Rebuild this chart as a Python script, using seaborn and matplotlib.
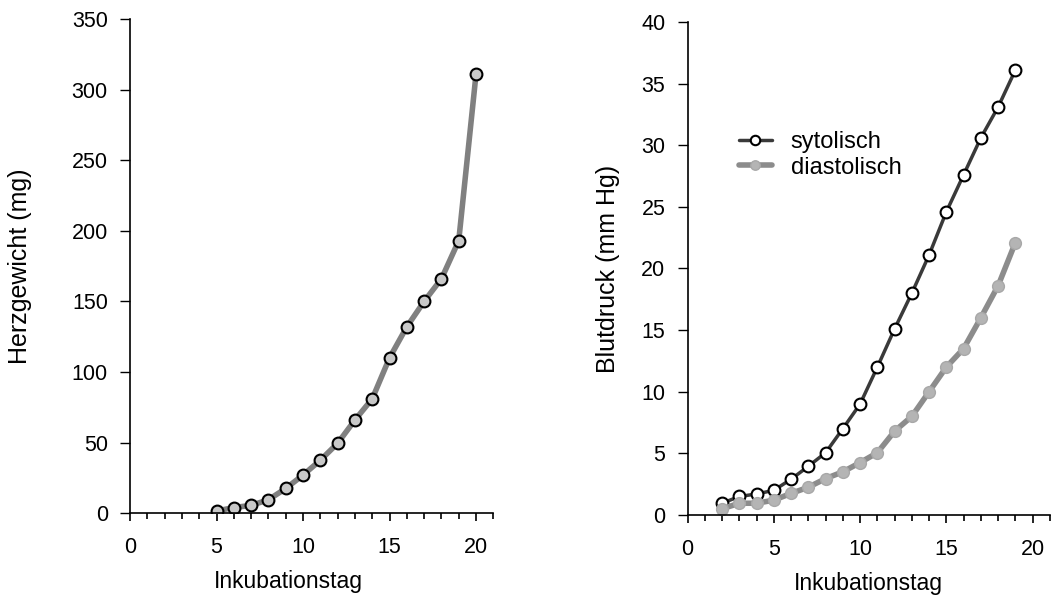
import matplotlib
matplotlib.use('Agg')
import matplotlib.pyplot as plt
from matplotlib.ticker import MultipleLocator
import seaborn as sns
import pandas as pd

# Herzgewicht (mg) pro Inkubationstag
herz_tage = [5, 6, 7, 8, 9, 10, 11, 12, 13, 14, 15, 16, 17, 18, 19, 20]
herz_gewicht = [1.5, 4, 5.5, 9.5, 17.5, 27, 37.5, 49.5, 66, 81, 110, 132, 150, 166, 193, 311]

# Blutdruck (mm Hg)
druck_tage = [2, 3, 4, 5, 6, 7, 8, 9, 10, 11, 12, 13, 14, 15, 16, 17, 18, 19]
systolisch = [0.95, 1.5, 1.7, 2.0, 2.9, 3.95, 5.05, 7.0, 9.0, 12.0, 15.1, 18.0, 21.1, 24.6, 27.6, 30.6, 33.1, 36.1]
diastolisch = [0.5, 0.95, 0.95, 1.2, 1.75, 2.25, 2.95, 3.5, 4.25, 5.05, 6.8, 8.0, 10.0, 12.0, 13.5, 16.0, 18.6, 22.1]

sns.set_style("ticks")
plt.rcParams['font.family'] = ['Liberation Sans', 'DejaVu Sans']
plt.rcParams['text.color'] = 'black'
plt.rcParams['axes.labelcolor'] = 'black'
plt.rcParams['xtick.color'] = 'black'
plt.rcParams['ytick.color'] = 'black'

df_herz = pd.DataFrame({'Tag': herz_tage, 'Gewicht': herz_gewicht})
df_druck = pd.DataFrame({'Tag': druck_tage, 'sys': systolisch, 'dia': diastolisch})

fig = plt.figure(figsize=(10.53, 5.96), dpi=100)
ax1 = fig.add_axes([0.1235, 0.139, 0.345, 0.829])
ax2 = fig.add_axes([0.653, 0.136, 0.344, 0.827])

# Linkes Diagramm
sns.lineplot(data=df_herz, x='Tag', y='Gewicht', ax=ax1, color='#808080', linewidth=4,
             marker='o', markersize=8.5, markerfacecolor='#c8c8c8', markeredgecolor='black',
             markeredgewidth=1.5)
ax1.set_xlim(0, 21)
ax1.set_ylim(0, 350)
ax1.set_ylabel('Herzgewicht (mg)', fontsize=18)
ax1.yaxis.set_label_coords(-0.27, 0.5)
ax1.set_xlabel('Inkubationstag', fontsize=16.5)
ax1.xaxis.set_label_coords(0.435, -0.115)

# Rechtes Diagramm
sns.lineplot(data=df_druck, x='Tag', y='sys', ax=ax2, color='#3a3a3a', linewidth=2.5,
             marker='o', markersize=8.5, markerfacecolor='white', markeredgecolor='black',
             markeredgewidth=1.5, label='sytolisch')
sns.lineplot(data=df_druck, x='Tag', y='dia', ax=ax2, color='#8c8c8c', linewidth=4,
             marker='o', markersize=8.5, markerfacecolor='#b4b4b4', markeredgecolor='#a8a8a8',
             markeredgewidth=1, label='diastolisch')
ax2.set_xlim(0, 21)
ax2.set_ylim(0, 40)
ax2.set_ylabel('Blutdruck (mm Hg)', fontsize=18)
ax2.yaxis.set_label_coords(-0.188, 0.5)
ax2.set_xlabel('Inkubationstag', fontsize=16.5)
ax2.xaxis.set_label_coords(0.5, -0.115)
ax2.yaxis.set_major_locator(MultipleLocator(5))
ax2.legend(loc='upper left', bbox_to_anchor=(0.083, 0.822), frameon=False, fontsize=17,
           handlelength=1.4, handletextpad=0.8, labelspacing=0.15, markerscale=0.8)

for ax in (ax1, ax2):
    ax.xaxis.set_major_locator(MultipleLocator(5))
    ax.xaxis.set_minor_locator(MultipleLocator(1))
    ax.tick_params(axis='x', which='major', direction='out', length=6, width=1.2, labelsize=15.5, pad=11)
    ax.tick_params(axis='x', which='minor', direction='out', length=4, width=1.2)
    ax.tick_params(axis='y', which='major', direction='out', length=7, width=1, labelsize=15.5, pad=9)
    for s in ('top', 'right'):
        ax.spines[s].set_visible(False)
    for s in ('left', 'bottom'):
        ax.spines[s].set_color('black')
        ax.spines[s].set_linewidth(1.2)

fig.savefig('out.png', dpi=100)
